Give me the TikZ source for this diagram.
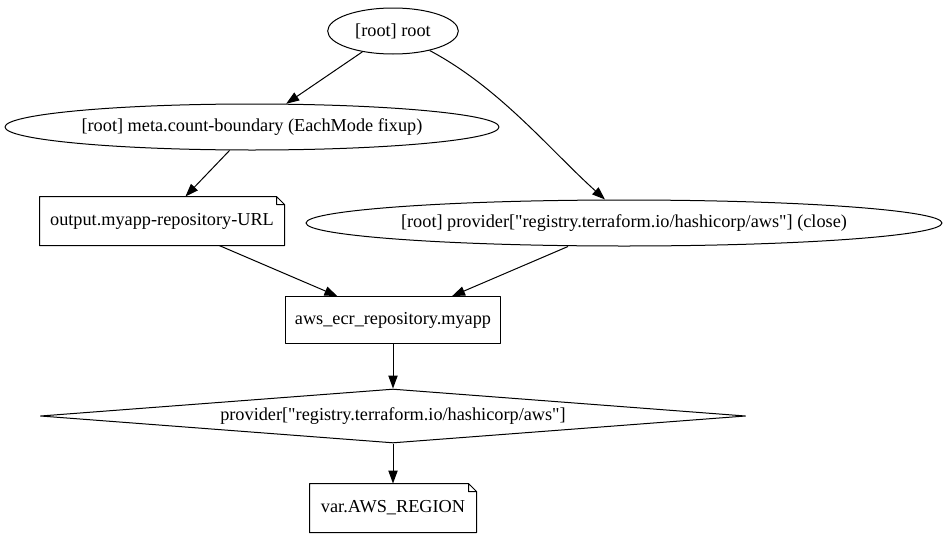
\documentclass[tikz,border=0pt]{standalone}
\usepackage{fontspec}
\setmainfont{Liberation Serif}[Ligatures=TeXOff]
\usetikzlibrary{shapes.geometric,arrows.meta}
\begin{document}
\begin{tikzpicture}[x=0.75pt, y=-0.75pt, font=\fontsize{13.7}{16}\selectfont,
		line join=round, line width=0.75pt, >={Triangle[length=9.75pt,width=7pt]},
		oval/.style={draw, ellipse, inner sep=0pt, minimum height=34.5pt},
		box/.style={draw, rectangle, inner sep=0pt, minimum width=161pt, minimum height=35pt},
		note/.style={rectangle, inner sep=0pt, minimum height=36pt},
		rhomb/.style={draw, diamond, shape aspect=13.06, inner sep=0pt, minimum width=529pt, minimum height=40.5pt}]
	\def \fold{6pt}
	\useasboundingbox (0,0) rectangle (948,539);
	\node[oval, minimum width=98pt] (root) at (393,31) {[root] root};
	\node[oval, minimum width=370.5pt] (meta) at (252,127) {[root] meta.count-boundary (EachMode fixup)};
	\node[note, minimum width=183pt] (url) at (162,221) {output.myapp-repository-URL};
	\node[oval, minimum width=477pt] (close) at (624,223) {[root] provider["registry.terraform.io/hashicorp/aws"] (close)};
	\node[box] (ecr) at (393,320) {aws\_ecr\_repository.myapp};
	\node[rhomb] (prov) at (393,416) {provider["registry.terraform.io/hashicorp/aws"]};
	\node[note, minimum width=124.5pt] (region) at (393,508) {var.AWS\_REGION};
	\foreach \n in {url,region}
	\draw (\n.north west) -- ([xshift=-\fold]\n.north east) -- ([yshift=-\fold]\n.north east)
		-- (\n.south east) -- (\n.south west) -- cycle
		([xshift=-\fold]\n.north east) |- ([yshift=-\fold]\n.north east);
	\draw[->] (root) -- (meta);
	\draw[->] (root) .. controls (500,88) and (550,150) .. ([xshift=-14.25pt]close.north);
	\draw[->] (meta) -- (url);
	\draw[->] (url) -- (ecr);
	\draw[->] ([xshift=-42pt]close.south) -- ([xshift=44.25pt]ecr.north);
	\draw[->] (ecr) -- (prov);
	\draw[->] (prov) -- (region);
\end{tikzpicture}
\end{document}
